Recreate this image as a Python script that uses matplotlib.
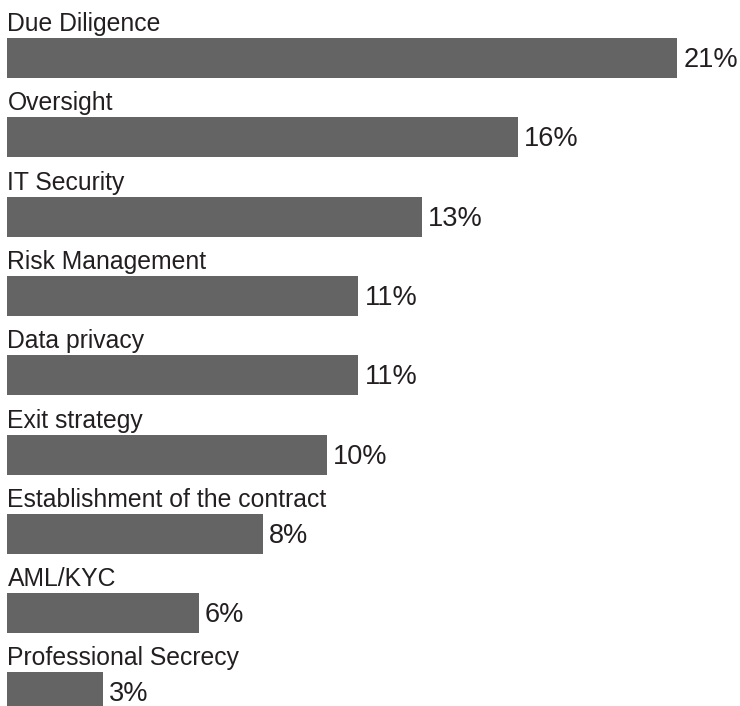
import matplotlib.pyplot as plt

categories = ["Due Diligence", "Oversight", "IT Security", "Risk Management",
              "Data privacy", "Exit strategy", "Establishment of the contract",
              "AML/KYC", "Professional Secrecy"]
shares = [21, 16, 13, 11, 11, 10, 8, 6, 3]
value_labels = ["21%", "16%", "13%", "11%", "11%", "10%", "8%", "6%", "3%"]

plt.rcParams['font.family'] = ['Liberation Sans', 'DejaVu Sans']

W, H = 740, 706
fig = plt.figure(figsize=(W / 100, H / 100), dpi=100)
ax = fig.add_axes([0, 0, 1, 1])

# pixel layout: one row every 79.3 px, bars 40 px tall
px_per_pct = 31.9
left_px = 7.5
row_px = 79.3
first_center = 58.0

ax.set_xlim(-left_px / px_per_pct, (W - left_px) / px_per_pct)
ax.set_ylim((H - first_center) / row_px, -first_center / row_px)

rows = range(len(categories))
ax.barh(list(rows), shares, height=40 / row_px, left=0, color="#646464")

text_color = "#231f20"
for i, (name, v, lab) in enumerate(zip(categories, shares, value_labels)):
    ax.text(0, i - 27 / row_px, name, ha="left", va="baseline",
            fontsize=17.8, color=text_color)
    ax.text(v + 6 / px_per_pct, i + 2 / row_px, lab, ha="left", va="center",
            fontsize=19.5, color=text_color)

ax.axis("off")
fig.savefig("out.png", dpi=100)
